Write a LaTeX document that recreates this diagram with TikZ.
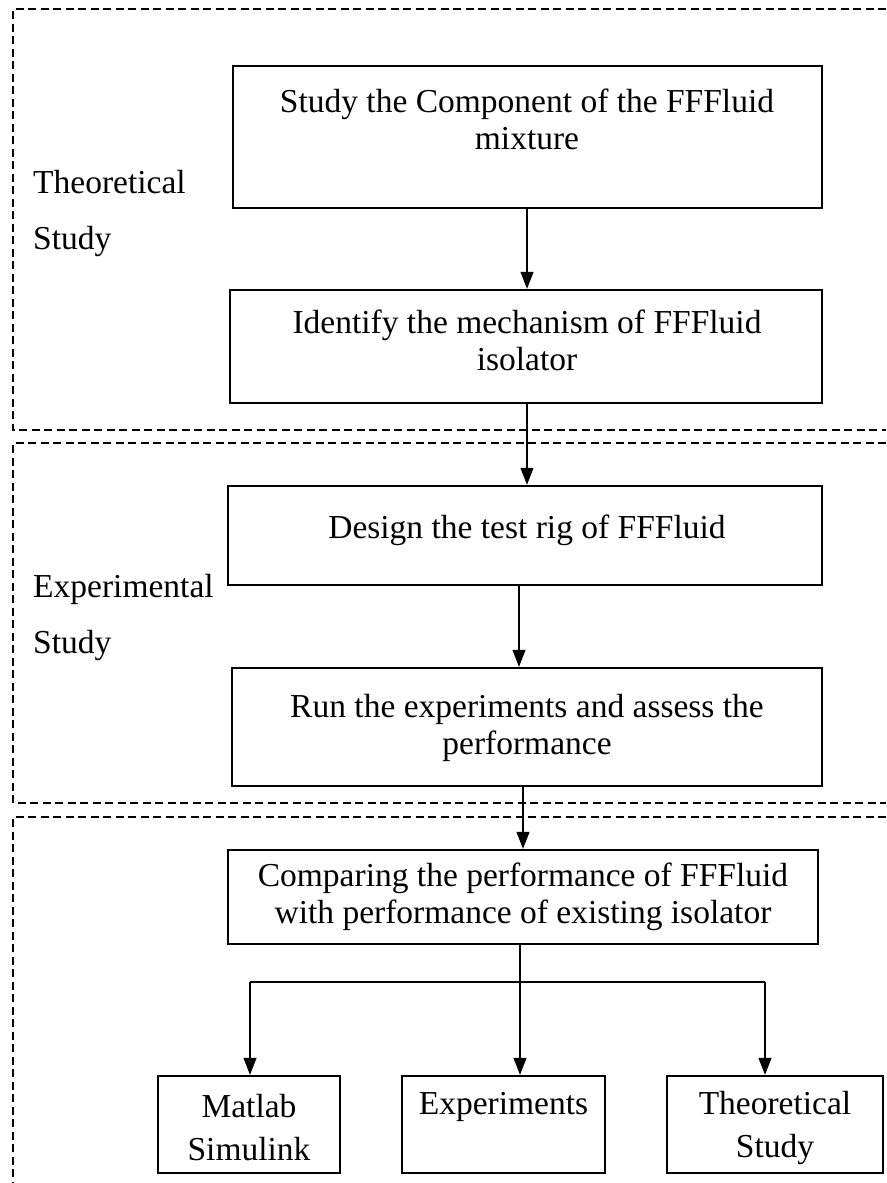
\documentclass[tikz,border=0pt]{standalone}
\usepackage{fontspec}
\setmainfont{Liberation Serif}
\usetikzlibrary{arrows.meta}
\begin{document}
\begin{tikzpicture}[x=1pt,y=-1pt,
  box/.style={draw,line width=2.4pt,inner sep=0pt},
  boxtext/.style={align=center,inner sep=0pt,font=\fontsize{33.5}{37}\selectfont},
  sidelabel/.style={align=left,inner sep=0pt,anchor=west,font=\fontsize{33.5}{56}\selectfont},
  region/.style={line width=2.4pt,dash pattern=on 8pt off 4.5pt},
  link/.style={line width=1.2pt},
  arr/.style={line width=1.2pt,-{Triangle[length=17pt,width=13pt]}}]
\useasboundingbox (0,0) rectangle (886,1183);
% dashed regions
\draw[region] (886,9) -- (13,9) -- (13,430) -- (886,430);
\draw[region] (886,443) -- (13,443) -- (13,803) -- (886,803);
\draw[region] (886,817) -- (13,817) -- (13,1183);
% side labels
\node[sidelabel] (lt) at (33,213) {Theoretical\\Study};
\node[sidelabel] (le) at (33,617) {Experimental\\Study};
% main boxes
\node[box,minimum width=589pt,minimum height=142pt] (b1) at (527.5,137) {};
\node[box,minimum width=592pt,minimum height=113pt] (b2) at (526,346.5) {};
\node[box,minimum width=594pt,minimum height=99pt] (b3) at (525,535.5) {};
\node[box,minimum width=590pt,minimum height=118pt] (b4) at (527,727) {};
\node[box,minimum width=590pt,minimum height=94pt] (b5) at (523,897) {};
\node[boxtext] (t1) at (527,119) {Study the Component of the FFFluid\\mixture};
\node[boxtext] (t2) at (527,340) {Identify the mechanism of FFFluid\\isolator};
\node[boxtext] (t3) at (527,530) {Design the test rig of FFFluid};
\node[boxtext] (t4) at (527,728) {Run the experiments and assess the\\performance};
\node[boxtext] (t5) at (523,897) {Comparing the performance of FFFluid\\with performance of existing isolator};
% bottom boxes
\node[box,minimum width=182pt,minimum height=97pt] (m) at (249,1124.5) {};
\node[box,minimum width=203pt,minimum height=97pt] (e) at (503.5,1124.5) {};
\node[box,minimum width=216pt,minimum height=97pt] (t) at (775,1124.5) {};
\node[boxtext,font=\fontsize{33.5}{43}\selectfont] (mt) at (249,1128) {Matlab\\Simulink};
\node[boxtext] (et) at (503.5,1107) {Experiments};
\node[boxtext,font=\fontsize{33.5}{43}\selectfont] (tt) at (775,1128) {Theoretical\\Study};
% arrows
\draw[arr] (b1.south -| 527,0) -- (b2.north -| 527,0);
\draw[arr] (b2.south -| 527,0) -- (b3.north -| 527,0);
\draw[arr] (b3.south -| 519,0) -- (b4.north -| 519,0);
\draw[arr] (b4.south -| 523,0) -- (b5.north -| 523,0);
\coordinate (split) at (520,982);
\coordinate (splitl) at (250,982);
\coordinate (splitr) at (765,982);
\draw[link] (b5.south -| split) -- (split);
\draw[link] (splitl) -- (splitr);
\draw[arr] (splitl) -- (m.north -| splitl);
\draw[arr] (split) -- (e.north -| split);
\draw[arr] (splitr) -- (t.north -| splitr);
\end{tikzpicture}
\end{document}
